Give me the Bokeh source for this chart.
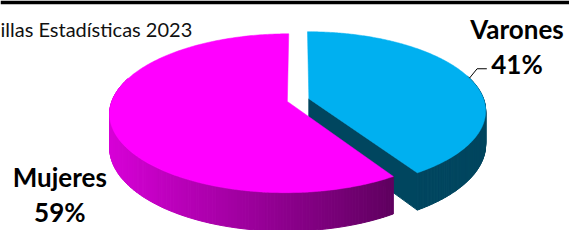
import numpy as np
from bokeh.plotting import figure
from bokeh.models import Range1d
from bokeh.core.properties import value
from bokeh.embed import file_html
from bokeh.resources import INLINE

# ---- data ----
categories = ["Varones", "Mujeres"]
shares = [41, 59]
pct_labels = ["41%", "59%"]
title_text = "illas Estadísticas 2023"

# ---- style ----
top_colors = ["#00B0F0", "#FF00FF"]
FONT = "Lato"

# 3D projection parameters (in reference pixel units)
CX, CY = 306.0, 106.5
B, A, K = 180.0, 82.65, 0.148
DEPTH = 35.0
EXPLODE = 0.064


def proj(X, Z, Y=0.0):
    w = 1 + K * np.asarray(Z)
    return CX + B * np.asarray(X) / w, CY - A * np.asarray(Z) / w + DEPTH * Y / w


p = figure(width=569, height=230, x_range=Range1d(0, 585), y_range=Range1d(246, 0),
           output_backend="svg", toolbar_location=None, min_border=0)
p.axis.visible = False
p.grid.visible = False
p.outline_line_color = None
p.background_fill_color = "white"

# thin black rule at top
p.quad(left=[0], right=[585], top=[0], bottom=[4], fill_color="black", line_color=None)

total = float(sum(shares))
angles = np.cumsum([0] + [s / total * 2 * np.pi for s in shares])

slices = []
for i, cat in enumerate(categories):
    t0, t1 = angles[i], angles[i + 1]
    mid = (t0 + t1) / 2
    ox, oz = EXPLODE * np.sin(mid), EXPLODE * np.cos(mid)
    th = np.linspace(t0, t1, 240)
    X = ox + np.sin(th)
    Z = oz + np.cos(th)
    slices.append(dict(t0=t0, t1=t1, mid=mid, ox=ox, oz=oz, th=th, X=X, Z=Z))


def side_color(i, xm):
    if i == 0:
        return "#00465F"
    t = np.clip((xm - 113) / (402 - 113), 0, 1)
    c0 = np.array([215, 0, 215]); c1 = np.array([96, 0, 96])
    c = (c0 + (c1 - c0) * t).astype(int)
    return "#%02x%02x%02x" % tuple(c)


def draw_slice(i):
    s = slices[i]
    X, Z, th = s["X"], s["Z"], s["th"]
    xt, yt = proj(X, Z, 0.0)
    xb, yb = proj(X, Z, 1.0)
    if i == 0:
        vx, vy = proj(s["ox"], s["oz"], 0.0)
        vbx, vby = proj(s["ox"], s["oz"], 1.0)
        p.patch([vx, xt[-1], xb[-1], vbx], [vy, yt[-1], yb[-1], vby],
                fill_color=side_color(0, 0), line_color=side_color(0, 0), line_width=1)
    xs, ys, cols = [], [], []
    for j in range(len(th) - 1):
        if np.cos(th[j]) < 0.3 or np.cos(th[j + 1]) < 0.3:
            xs.append([xt[j], xt[j + 1], xb[j + 1], xb[j]])
            ys.append([yt[j], yt[j + 1], yb[j + 1], yb[j]])
            cols.append(side_color(i, (xt[j] + xt[j + 1]) / 2))
    p.patches(xs, ys, fill_color=cols, line_color=cols, line_width=1)
    vx, vy = proj(s["ox"], s["oz"], 0.0)
    p.patch(np.concatenate([[vx], xt]), np.concatenate([[vy], yt]),
            fill_color=top_colors[i], line_color=top_colors[i], line_width=0.5)


draw_slice(0)
draw_slice(1)

# leader line for Varones label
s0 = slices[0]
lx, ly = proj(s0["ox"] + np.sin(s0["mid"]), s0["oz"] + np.cos(s0["mid"]), 0.0)
p.line([500, 490, float(lx)], [73, 73, float(ly)], line_color="black", line_width=1)

# labels
p.text(x=[531, 531], y=[30, 68], text=[categories[0], pct_labels[0]],
       text_font=value(FONT), text_font_style="bold", text_font_size="26px",
       text_align="center", text_baseline="alphabetic", text_color="black")
p.text(x=[61, 61], y=[189, 226], text=[categories[1], pct_labels[1]],
       text_font=value(FONT), text_font_style="bold", text_font_size="26px",
       text_align="center", text_baseline="alphabetic", text_color="black")
p.text(x=[0], y=[31], text=[title_text], text_font=value(FONT),
       text_font_size="20px", text_align="left", text_baseline="alphabetic",
       text_color="#111111")

open("out.html", "w").write(file_html(p, INLINE))
